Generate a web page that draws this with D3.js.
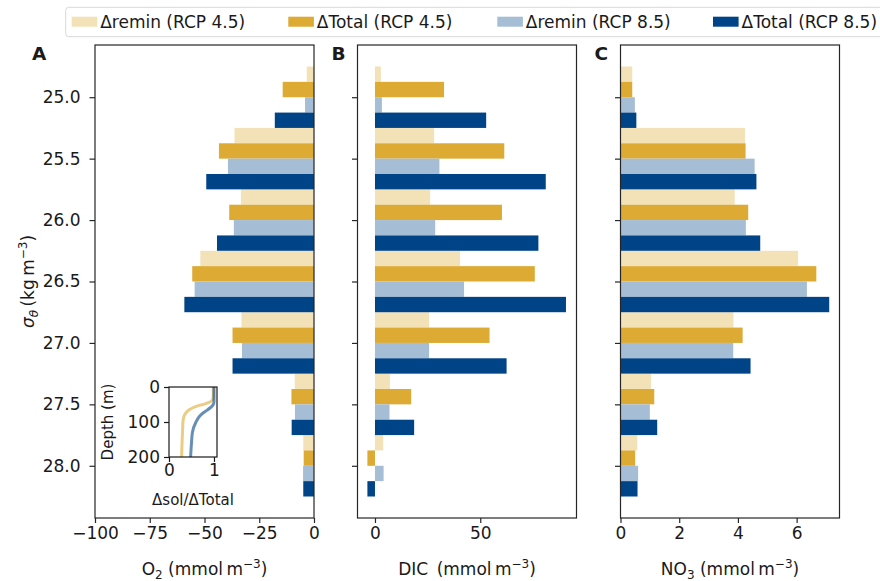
<!DOCTYPE html>
<html>
<head>
<meta charset="utf-8">
<script src="https://cdn.jsdelivr.net/npm/d3@7"></script>
<style>
  html, body { margin: 0; padding: 0; background: #fff; }
  svg { display: block; }
  text { font-family: "DejaVu Sans", sans-serif; fill: #1a1a1a; }
</style>
</head>
<body>
<svg id="chart" width="880" height="581"></svg>
<script>
// ---------------- data ----------------
const sigmaCats = [25.0, 25.5, 26.0, 26.5, 27.0, 27.5, 28.0];
const yTickLabels = ["25.0", "25.5", "26.0", "26.5", "27.0", "27.5", "28.0"];
const seriesNames = ["\u0394remin (RCP 4.5)", "\u0394Total (RCP 4.5)", "\u0394remin (RCP 8.5)", "\u0394Total (RCP 8.5)"];
const seriesColors = ["#f3e1b8", "#ddaa33", "#a6bed5", "#004488"];

const o2Remin45  = [-3.3, -36.3, -33.4, -51.9, -33.1, -8.8, -4.9];
const o2Total45  = [-14.3, -43.4, -38.7, -55.6, -37.2, -10.3, -4.7];
const o2Remin85  = [-4.1, -39.3, -36.6, -54.5, -32.9, -8.7, -5.0];
const o2Total85  = [-17.9, -49.2, -44.3, -59.2, -37.2, -10.2, -4.9];

const dicRemin45 = [2.8, 28.1, 26.2, 40.4, 25.7, 7.1, 3.9];
const dicTotal45 = [32.8, 61.4, 60.3, 75.9, 54.4, 17.2, -3.6];
const dicRemin85 = [3.3, 30.6, 28.6, 42.3, 25.7, 6.9, 4.1];
const dicTotal85 = [52.8, 81.1, 77.6, 90.7, 62.5, 18.6, -3.6];

const no3Remin45 = [0.40, 4.24, 3.89, 6.05, 3.85, 1.04, 0.57];
const no3Total45 = [0.40, 4.26, 4.35, 6.67, 4.16, 1.15, 0.50];
const no3Remin85 = [0.49, 4.57, 4.27, 6.35, 3.84, 1.00, 0.60];
const no3Total85 = [0.54, 4.63, 4.76, 7.11, 4.43, 1.25, 0.58];

const o2Ticks  = [-100, -75, -50, -25, 0];
const dicTicks = [0, 50];
const no3Ticks = [0, 2, 4, 6];

// inset: ratio of solubility change to total change vs depth
const insetDepth = [0, 20, 35, 42, 48, 54, 60, 66, 75, 85, 100, 130, 160, 200];
const insetRcp45 = [0.985, 0.985, 0.975, 0.92, 0.80, 0.64, 0.52, 0.44, 0.37, 0.33, 0.31, 0.30, 0.29, 0.28];
const insetRcp85 = [1.0, 1.0, 1.0, 1.0, 0.99, 0.96, 0.91, 0.85, 0.75, 0.67, 0.60, 0.52, 0.50, 0.48];
const insetXTicks = [0, 1];
const insetYTicks = [0, 100, 200];

// ---------------- layout ----------------
const svg = d3.select("#chart");
const plotTop = 45, plotBottom = 518;
const panelW = 219;
const fs = 17;

const y = d3.scaleLinear().domain([24.575, 28.425]).range([plotTop, plotBottom]);
const barH = y(25.125) - y(25.0);
const offsets = [-0.1875, -0.0625, 0.0625, 0.1875];

const panels = [
  { x0: 95,    domain: [-100, 0],   ticks: o2Ticks,  letter: "A", series: [o2Remin45, o2Total45, o2Remin85, o2Total85], label: "o2", yLabels: true },
  { x0: 357.5, domain: [-8.3, 95.7], ticks: dicTicks, letter: "B", series: [dicRemin45, dicTotal45, dicRemin85, dicTotal85], label: "dic" },
  { x0: 620.5, domain: [0, 7.46],   ticks: no3Ticks, letter: "C", series: [no3Remin45, no3Total45, no3Remin85, no3Total85], label: "no3" }
];

const fmtTick = d => (d < 0 ? "\u2212" + Math.abs(d) : String(d));

panels.forEach(p => {
  const x = d3.scaleLinear().domain(p.domain).range([p.x0, p.x0 + panelW]);
  const g = svg.append("g");

  // bars
  p.series.forEach((vals, si) => {
    g.selectAll(null).data(vals).enter().append("rect")
      .attr("x", d => Math.min(x(0), x(d)))
      .attr("width", d => Math.abs(x(d) - x(0)))
      .attr("y", (d, i) => y(sigmaCats[i] + offsets[si]) - barH / 2)
      .attr("height", barH)
      .attr("fill", seriesColors[si]);
  });

  // frame
  g.append("rect")
    .attr("x", p.x0).attr("y", plotTop)
    .attr("width", panelW).attr("height", plotBottom - plotTop)
    .attr("fill", "none").attr("stroke", "#262626").attr("stroke-width", 1.2);

  // x axis
  const xAxis = d3.axisBottom(x).tickValues(p.ticks).tickFormat(fmtTick).tickSize(5).tickPadding(12);
  const xa = g.append("g").attr("transform", `translate(0,${plotBottom})`).call(xAxis);
  xa.select(".domain").remove();
  xa.selectAll("line").attr("stroke", "#262626").attr("stroke-width", 1.2);
  xa.selectAll("text").attr("font-size", fs).attr("font-family", "DejaVu Sans").attr("fill", "#1a1a1a").attr("dy", "0.25em");

  // y axis
  const yAxis = d3.axisLeft(y).tickValues(sigmaCats)
    .tickFormat((d, i) => p.yLabels ? yTickLabels[i] : "")
    .tickSize(5.5).tickPadding(9);
  const ya = g.append("g").attr("transform", `translate(${p.x0},0)`).call(yAxis);
  ya.select(".domain").remove();
  ya.selectAll("line").attr("stroke", "#262626").attr("stroke-width", 1.2);
  ya.selectAll("text").attr("font-size", fs).attr("font-family", "DejaVu Sans").attr("fill", "#1a1a1a");

  // panel letter
  svg.append("text")
    .attr("x", p.x0 - (p.letter === "A" ? 63 : 26)).attr("y", 60)
    .attr("font-family", "Liberation Sans, Arial, sans-serif")
    .attr("font-weight", "bold").attr("font-size", 18.5)
    .text(p.letter);

  // x label
  const cx = p.x0 + panelW / 2;
  const lbl = svg.append("text").attr("x", cx).attr("y", 575)
    .attr("text-anchor", "middle").attr("font-size", fs);
  if (p.label === "o2") {
    lbl.append("tspan").text("O");
    lbl.append("tspan").attr("font-size", 12).attr("dy", 4).text("2");
    lbl.append("tspan").attr("dy", -4).text(" (mmol\u2009m");
  } else if (p.label === "dic") {
    lbl.append("tspan").text("DIC\u2002(mmol\u2009m");
  } else {
    lbl.append("tspan").text("NO");
    lbl.append("tspan").attr("font-size", 12).attr("dy", 4).text("3");
    lbl.append("tspan").attr("dy", -4).text(" (mmol\u2009m");
  }
  lbl.append("tspan").attr("font-size", 12).attr("dy", -7).text("\u22123");
  lbl.append("tspan").attr("dy", 7).text(")");
});

// y label
const yl = svg.append("text")
  .attr("transform", `translate(34,${(plotTop + plotBottom) / 2}) rotate(-90)`)
  .attr("text-anchor", "middle").attr("font-size", fs);
yl.append("tspan").attr("font-style", "italic").text("\u03c3");
yl.append("tspan").attr("font-style", "italic").attr("font-size", 12).attr("dy", 4).text("\u03b8");
yl.append("tspan").attr("dy", -4).text("\u2009(kg\u2009m");
yl.append("tspan").attr("font-size", 12).attr("dy", -7).text("\u22123");
yl.append("tspan").attr("dy", 7).text(")");

// ---------------- inset ----------------
const ix0 = 169, ix1 = 217, iy0 = 387, iy1 = 457;
const ixs = d3.scaleLinear().domain([0, 1.067]).range([ix0, ix1]);
const iys = d3.scaleLinear().domain([0, 200]).range([iy0, iy1]);
const ig = svg.append("g");
ig.append("rect").attr("x", ix0).attr("y", iy0).attr("width", ix1 - ix0).attr("height", iy1 - iy0)
  .attr("fill", "#fff");
const line = d3.line().x(d => ixs(d[0])).y(d => iys(d[1])).curve(d3.curveMonotoneY);
ig.append("path").datum(insetRcp45.map((v, i) => [v, insetDepth[i]]))
  .attr("d", line).attr("fill", "none").attr("stroke", "#ddaa33").attr("stroke-opacity", 0.6).attr("stroke-width", 3);
ig.append("path").datum(insetRcp85.map((v, i) => [v, insetDepth[i]]))
  .attr("d", line).attr("fill", "none").attr("stroke", "#004488").attr("stroke-opacity", 0.6).attr("stroke-width", 3);
ig.append("rect").attr("x", ix0).attr("y", iy0).attr("width", ix1 - ix0).attr("height", iy1 - iy0)
  .attr("fill", "none").attr("stroke", "#1a1a1a").attr("stroke-width", 1.2);

const ixa = ig.append("g").attr("transform", `translate(0,${iy1})`)
  .call(d3.axisBottom(ixs).tickValues(insetXTicks).tickFormat(d => String(d)).tickSize(5).tickPadding(11));
ixa.select(".domain").remove();
ixa.selectAll("line").attr("stroke", "#1a1a1a").attr("stroke-width", 1.2);
ixa.selectAll("text").attr("font-size", fs).attr("font-family", "DejaVu Sans").attr("fill", "#1a1a1a").attr("dy", "0.2em");

const iya = ig.append("g").attr("transform", `translate(${ix0},0)`)
  .call(d3.axisLeft(iys).tickValues(insetYTicks).tickFormat(d => String(d)).tickSize(5).tickPadding(4));
iya.select(".domain").remove();
iya.selectAll("line").attr("stroke", "#1a1a1a").attr("stroke-width", 1.2);
iya.selectAll("text").attr("font-size", fs).attr("font-family", "DejaVu Sans").attr("fill", "#1a1a1a");

svg.append("text").attr("x", (ix0 + ix1) / 2).attr("y", 505)
  .attr("text-anchor", "middle").attr("font-size", 15).text("\u0394sol/\u0394Total");
svg.append("text").attr("transform", `translate(113,${(iy0 + iy1) / 2}) rotate(-90)`)
  .attr("text-anchor", "middle").attr("font-size", 15).text("Depth (m)");

// ---------------- legend ----------------
const lg = svg.append("g");
lg.append("rect").attr("x", 65.7).attr("y", 7.3).attr("width", 820).attr("height", 29.4)
  .attr("rx", 3).attr("fill", "#fff").attr("stroke", "#d9d9d9").attr("stroke-width", 1);
const legX = [71.7, 288.3, 497.3, 713];
seriesNames.forEach((name, i) => {
  lg.append("rect").attr("x", legX[i]).attr("y", 16.7).attr("width", 25.6).attr("height", 10)
    .attr("fill", seriesColors[i]);
  lg.append("text").attr("x", legX[i] + 28.5).attr("y", 27.5).attr("font-size", fs).text(name);
});
</script>
</body>
</html>
